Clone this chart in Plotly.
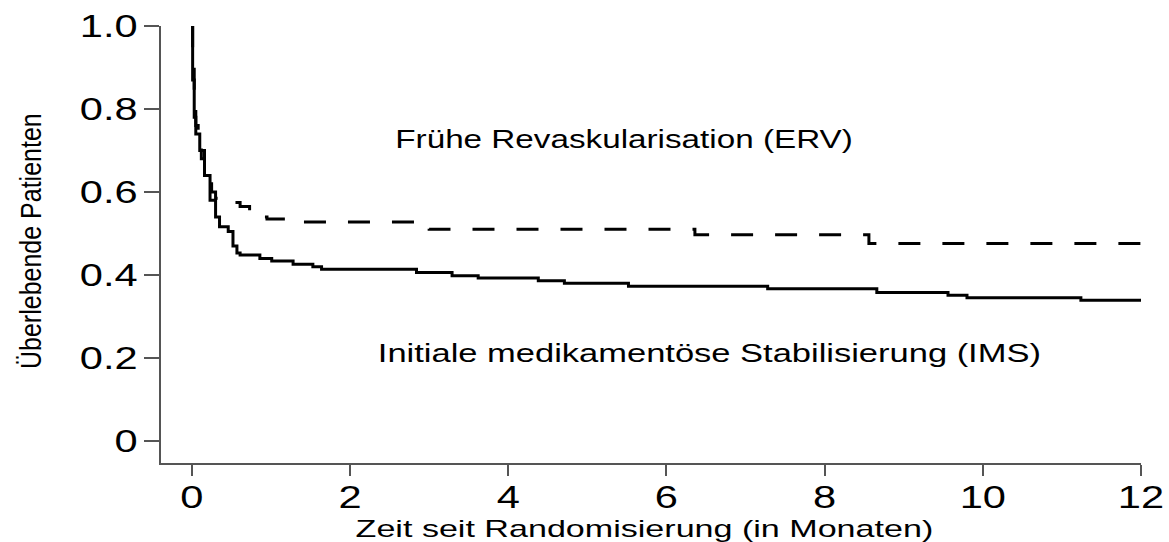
import plotly.graph_objects as go

# ---- data ----
erv_months = [0, 0.01, 0.03, 0.05, 0.08, 0.12, 0.16, 0.20, 0.25, 0.30, 0.42, 0.61, 0.73, 0.95, 1.20, 2.86, 3.00, 6.36, 8.56, 12.0]
erv_surv   = [1.0, 0.90, 0.82, 0.76, 0.72, 0.68, 0.645, 0.62, 0.60, 0.585, 0.575, 0.565, 0.540, 0.535, 0.528, 0.520, 0.510, 0.497, 0.476, 0.476]

ims_months = [0, 0.01, 0.03, 0.05, 0.10, 0.16, 0.23, 0.30, 0.35, 0.46, 0.52, 0.57, 0.61, 0.86, 1.01, 1.28, 1.53, 1.64, 2.84, 3.29, 3.62, 4.38, 4.71, 5.52, 7.28, 8.66, 9.56, 9.80, 11.24, 12.0]
ims_surv   = [1.0, 0.87, 0.78, 0.74, 0.70, 0.64, 0.58, 0.54, 0.516, 0.505, 0.47, 0.453, 0.448, 0.440, 0.434, 0.426, 0.420, 0.414, 0.406, 0.398, 0.393, 0.386, 0.380, 0.373, 0.367, 0.358, 0.351, 0.345, 0.339, 0.339]

x_ticks = [0, 2, 4, 6, 8, 10, 12]
y_ticks = [0, 0.2, 0.4, 0.6, 0.8, 1.0]
y_ticklabels = ["0", "0.2", "0.4", "0.6", "0.8", "1.0"]

label_erv = "Frühe Revaskularisation (ERV)"
label_ims = "Initiale medikamentöse Stabilisierung (IMS)"
x_title = "Zeit seit Randomisierung (in Monaten)"
y_title = "Überlebende Patienten"

FONT = "Liberation Sans, Arial, Helvetica, sans-serif"
AX = "#555555"

fig = go.Figure()
fig.add_trace(go.Scatter(x=erv_months, y=erv_surv, mode="lines", line_shape="hv",
                         line=dict(color="black", width=3, dash="22px,22px"),
                         showlegend=False, hoverinfo="skip"))
fig.add_trace(go.Scatter(x=ims_months, y=ims_surv, mode="lines", line_shape="hv",
                         line=dict(color="black", width=3),
                         showlegend=False, hoverinfo="skip"))

fig.add_annotation(x=5.46, y=0.727, xref="x", yref="y", text=label_erv, showarrow=False,
                   xanchor="center", yanchor="middle", font=dict(family=FONT, size=25, color="black"))
fig.add_annotation(x=6.55, y=0.212, xref="x", yref="y", text=label_ims, showarrow=False,
                   xanchor="center", yanchor="middle", font=dict(family=FONT, size=25, color="black"))
fig.add_annotation(x=0, y=0.508, xref="paper", yref="paper", xshift=-131, text=y_title, showarrow=False,
                   textangle=-90, xanchor="center", yanchor="middle",
                   font=dict(family=FONT, size=25, color="black"))
fig.add_annotation(x=0.493, y=-0.151, xref="paper", yref="paper", text=x_title, showarrow=False,
                   xanchor="center", yanchor="middle", font=dict(family=FONT, size=24, color="black"))

fig.update_xaxes(range=[-0.39, 12], tickvals=x_ticks, ticktext=[str(v) for v in x_ticks],
                 showgrid=False, zeroline=False, showline=True, linecolor=AX, linewidth=2,
                 ticks="outside", ticklen=11, tickwidth=2, tickcolor=AX, automargin=False,
                 ticklabelstandoff=-6,
                 tickfont=dict(family=FONT, size=32, color="black"))
fig.update_yaxes(range=[-0.053, 1.0], tickvals=y_ticks, ticktext=y_ticklabels,
                 showgrid=False, zeroline=False, showline=True, linecolor=AX, linewidth=2,
                 ticks="outside", ticklen=15, tickwidth=2, tickcolor=AX, automargin=False,
                 tickfont=dict(family=FONT, size=32, color="black"))

fig.update_layout(width=1169, height=542, plot_bgcolor="white", paper_bgcolor="white",
                  margin=dict(l=161, r=28, t=26, b=79, autoexpand=False), showlegend=False)

# The reference's lettering is horizontally wide; widen the glyphs (text stays real SVG text).
post = """
document.body.style.margin = '0';
document.body.style.padding = '0';
var gd = document.getElementById('{plot_id}');
function widen(el, s, anchor) {
  var bb = el.getBBox();
  var cx = anchor === 'end' ? bb.x + bb.width : (anchor === 'start' ? bb.x : bb.x + bb.width / 2);
  var t = el.getAttribute('transform') || '';
  el.setAttribute('transform', t + ' translate(' + cx + ',0) scale(' + s + ',1) translate(' + (-cx) + ',0)');
}
function thicken(el, s) {
  var bb = el.getBBox();
  var cy = bb.y + bb.height / 2;
  var t = el.getAttribute('transform') || '';
  el.setAttribute('transform', t + ' translate(0,' + cy + ') scale(1,' + s + ') translate(0,' + (-cy) + ')');
}
gd.querySelectorAll('.xtick text').forEach(function (el) { widen(el, 1.3, 'middle'); });
gd.querySelectorAll('.ytick text').forEach(function (el) { widen(el, 1.3, 'end'); });
var ann = gd.querySelectorAll('.annotation-text');
if (ann.length >= 4) {
  widen(ann[0], 1.33, 'middle');
  widen(ann[1], 1.38, 'middle');
  thicken(ann[2], 1.2);
  widen(ann[3], 1.42, 'middle');
}
"""

fig.write_html("out.html", post_script=post, config={"displayModeBar": False})
